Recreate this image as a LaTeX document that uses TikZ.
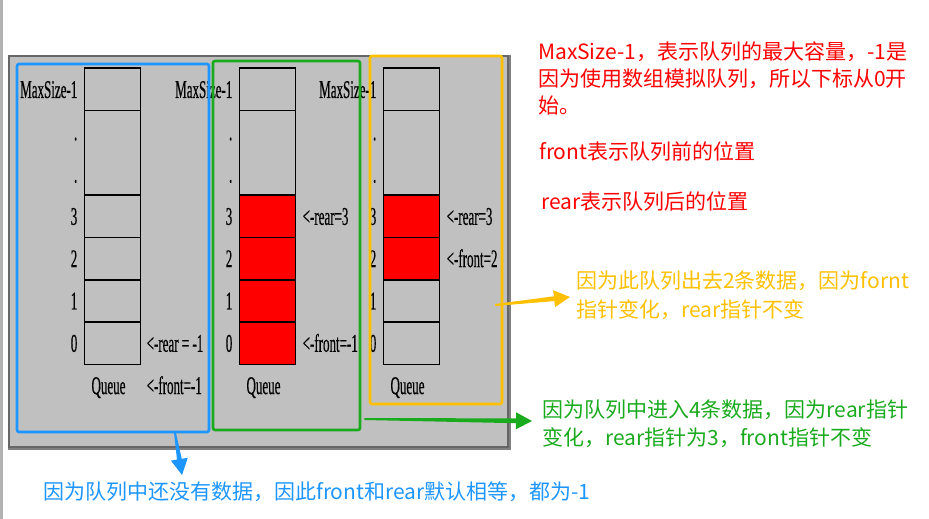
\documentclass[tikz,border=0pt]{standalone}
\usepackage{fontspec}
\usetikzlibrary{positioning, calc}
\newfontfamily\qfont[FakeStretch=0.51, FakeBold=0.4]{Liberation Serif}
\newfontfamily\cjk{Noto Sans CJK SC}
\definecolor{panelgray}{RGB}{192,192,192}
\definecolor{cellred}{RGB}{255,0,0}
\definecolor{noteblue}{RGB}{30,150,255}
\definecolor{notegreen}{RGB}{26,170,30}
\definecolor{noteorange}{RGB}{255,192,0}
% tapered callout arrow: colour, tail, tip
\newcommand{\taperarrow}[3]{%
  \fill[#1] ($(#2)!1pt!90:(#3)$)
    -- ($(#3)!16pt!(#2)!2.4pt!90:(#3)$)
    -- ($(#3)!16pt!(#2)!8.5pt!90:(#3)$)
    -- (#3)
    -- ($(#3)!16pt!(#2)!8.5pt!-90:(#3)$)
    -- ($(#3)!16pt!(#2)!2.4pt!-90:(#3)$)
    -- ($(#2)!1pt!-90:(#3)$) -- cycle;}

\begin{document}
\begin{tikzpicture}[
    x=1pt, y=-1pt,
    cell/.style={draw=black, line width=1.6pt, fill=panelgray, minimum width=56pt, minimum height=42.3pt, inner sep=0pt, outer sep=0pt},
    tallcell/.style={cell, minimum height=84.6pt},
    full/.style={fill=cellred},
    idx/.style={inner sep=0pt, text height=17pt, text depth=0pt, font=\qfont\fontsize{25.5}{25.5}\selectfont},
    hlbox/.style={line width=2.6pt, rounded corners=2pt, inner sep=0pt},
    note/.style={inner sep=0pt, align=left, anchor=west, font=\cjk\fontsize{21}{27}\selectfont}
  ]
    \useasboundingbox (0,0) rectangle (929,519);
    \draw[line width=2.6pt, black!30] (1.3,0) -- (1.3,519);
    % grey slide panel
    \node[draw=black!60, line width=1.5pt, fill=panelgray, minimum width=499pt, minimum height=391pt, inner sep=0pt] (panel) at (258.5,251.5) {};
    \draw[line width=2.5pt, black!50] ([yshift=-1.2pt]panel.south west) -- ([xshift=1.2pt,yshift=-1.2pt]panel.south east) -- ([xshift=1.2pt]panel.north east);

    % queue A: empty
    \node[cell] (at) at (112.5,89.45) {};
    \node[tallcell, below=0pt of at] (ad) {};
    \node[cell, below=0pt of ad] (a3) {};
    \node[cell, below=0pt of a3] (a2) {};
    \node[cell, below=0pt of a2] (a1) {};
    \node[cell, below=0pt of a1] (a0) {};
    \node[idx, left=7pt of at] (atl) {MaxSize-1};
    \node[idx, anchor=east] (adl1) at ([xshift=-7pt,yshift=21.15pt]ad.west) {.};
    \node[idx, anchor=east] (adl2) at ([xshift=-7pt,yshift=-21.15pt]ad.west) {.};
    \node[idx, left=7pt of a3] (a3l) {3};
    \node[idx, left=7pt of a2] (a2l) {2};
    \node[idx, left=7pt of a1] (a1l) {1};
    \node[idx, left=7pt of a0] (a0l) {0};
    \node[idx, right=6pt of a0] (arear) {<-rear = -1};
    \node[idx, anchor=west] (afront) at ([yshift=-42.3pt]arear.west) {<-front=-1};
    \node[idx] (aq) at ([xshift=-4pt,yshift=-42.3pt]a0.center) {Queue};

    % queue B: four pushed
    \node[cell] (bt) at (267.5,89.45) {};
    \node[tallcell, below=0pt of bt] (bd) {};
    \node[cell, full, below=0pt of bd] (b3) {};
    \node[cell, full, below=0pt of b3] (b2) {};
    \node[cell, full, below=0pt of b2] (b1) {};
    \node[cell, full, below=0pt of b1] (b0) {};
    \node[idx, left=7pt of bt] (btl) {MaxSize-1};
    \node[idx, anchor=east] (bdl1) at ([xshift=-7pt,yshift=21.15pt]bd.west) {.};
    \node[idx, anchor=east] (bdl2) at ([xshift=-7pt,yshift=-21.15pt]bd.west) {.};
    \node[idx, left=7pt of b3] (b3l) {3};
    \node[idx, left=7pt of b2] (b2l) {2};
    \node[idx, left=7pt of b1] (b1l) {1};
    \node[idx, left=7pt of b0] (b0l) {0};
    \node[idx, right=7pt of b3] (brear) {<-rear=3};
    \node[idx, right=7pt of b0] (bfront) {<-front=-1};
    \node[idx] (bq) at ([xshift=-4pt,yshift=-42.3pt]b0.center) {Queue};

    % queue C: two popped
    \node[cell] (ct) at (411.5,89.45) {};
    \node[tallcell, below=0pt of ct] (cd) {};
    \node[cell, full, below=0pt of cd] (c3) {};
    \node[cell, full, below=0pt of c3] (c2) {};
    \node[cell, below=0pt of c2] (c1) {};
    \node[cell, below=0pt of c1] (c0) {};
    \node[idx, left=7pt of ct] (ctl) {MaxSize-1};
    \node[idx, anchor=east] (cdl1) at ([xshift=-7pt,yshift=21.15pt]cd.west) {.};
    \node[idx, anchor=east] (cdl2) at ([xshift=-7pt,yshift=-21.15pt]cd.west) {.};
    \node[idx, left=7pt of c3] (c3l) {3};
    \node[idx, left=7pt of c2] (c2l) {2};
    \node[idx, left=7pt of c1] (c1l) {1};
    \node[idx, left=7pt of c0] (c0l) {0};
    \node[idx, right=7pt of c3] (crear) {<-rear=3};
    \node[idx, right=7pt of c2] (cfront) {<-front=2};
    \node[idx] (cq) at ([xshift=-4pt,yshift=-42.3pt]c0.center) {Queue};

    % highlight boxes
    \node[hlbox, draw=noteblue, minimum width=192pt, minimum height=368pt] (bbox) at (113,248) {};
    \node[hlbox, draw=notegreen, minimum width=147pt, minimum height=369pt] (gbox) at (286.5,245.5) {};
    \node[hlbox, draw=noteorange, minimum width=132pt, minimum height=348pt] (obox) at (436,230) {};

    % notes
    \node[note, text=red] (rtxt) at (538,78.3)
    {MaxSize-1，表示队列的最大容量，-1是\\
     因为使用数组模拟队列，所以下标从0开\\
     始。};
    \node[note, text=red] (ftxt) at (539,151.5) {front表示队列前的位置};
    \node[note, text=red] (rrtxt) at (541,201.5) {rear表示队列后的位置};
    \node[note, text=noteorange, font=\cjk\fontsize{21}{28.5}\selectfont] (otxt) at (576,295.5)
    {因为此队列出去2条数据，因为fornt\\
     指针变化，rear指针不变};
    \node[note, text=notegreen, font=\cjk\fontsize{21}{28.5}\selectfont] (gtxt) at (542,424)
    {因为队列中进入4条数据，因为rear指针\\
     变化，rear指针为3，front指针不变};
    \node[note, text=noteblue] (btxt) at (43,492) {因为队列中还没有数据，因此front和rear默认相等，都为-1};

    % callout arrows
    \coordinate (otail) at (495,305);
    \coordinate (otip) at ([xshift=-6pt,yshift=-1.5pt]otxt.west);
    \coordinate (gtail) at ([xshift=3pt]gbox.east |- 0,419);
    \coordinate (gtip) at ([xshift=-10pt,yshift=3pt]gtxt.west);
    \coordinate (btail) at (175,433);
    \coordinate (btip) at (182,475);
    \taperarrow{noteorange}{otail}{otip}
    \taperarrow{notegreen}{gtail}{gtip}
    \taperarrow{noteblue}{btail}{btip}
  \end{tikzpicture}
\end{document}
